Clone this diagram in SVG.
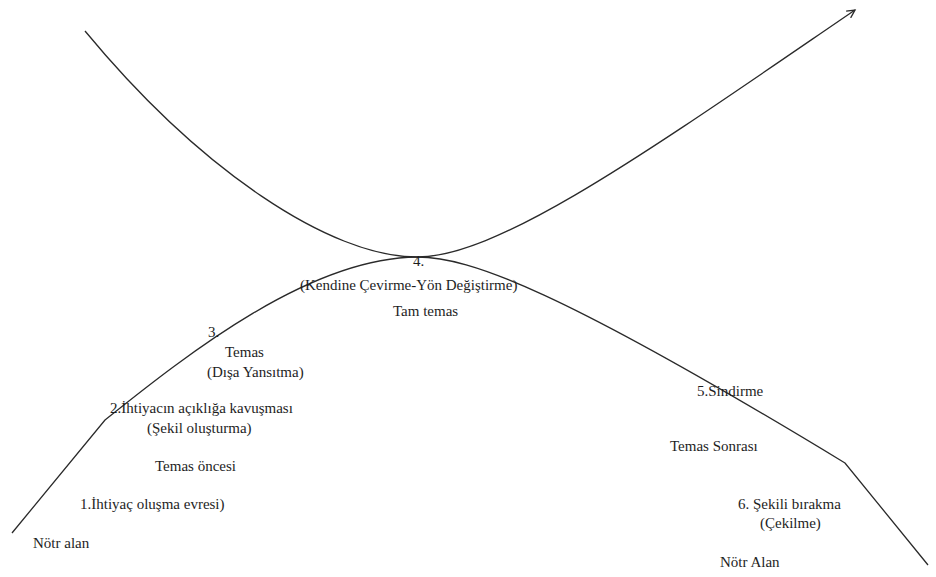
<svg xmlns="http://www.w3.org/2000/svg" width="936" height="577" viewBox="0 0 936 577">
<style>
text{font-family:"Liberation Serif","Times New Roman",serif;font-size:15px;fill:#1e1e1e}
.c{fill:none;stroke:#2a2a2a;stroke-width:1.3}
</style>
<defs>
<marker id="arr" markerWidth="12" markerHeight="10" refX="9" refY="5" orient="auto" markerUnits="userSpaceOnUse">
<path d="M1,1 L9,5 L1,9" fill="none" stroke="#2a2a2a" stroke-width="1.3"/>
</marker>
</defs>
<rect width="936" height="577" fill="#fff"/>
<g id="connectors">
<path class="c" d="M85,31 C200,170 330,257 417,257 C500,257 650,150 855,10" marker-end="url(#arr)"/>
<path class="c" d="M12,533 L105,420 C190,352 310,258 417,257 C470,257 560,290 845,463 L928,565"/>
</g>
<g id="n4"><text x="413" y="266">4.</text></g>
<g id="n4b"><text x="300" y="290">(Kendine Çevirme-Yön Değiştirme)</text></g>
<g id="n4c"><text x="393" y="316">Tam temas</text></g>
<g id="n3"><text x="208" y="337">3.</text></g>
<g id="n3b"><text x="225" y="357">Temas</text></g>
<g id="n3c"><text x="207" y="377">(Dışa Yansıtma)</text></g>
<g id="n2"><text x="110" y="413">2.İhtiyacın açıklığa kavuşması</text></g>
<g id="n2b"><text x="147" y="433">(Şekil oluşturma)</text></g>
<g id="n2c"><text x="155" y="471">Temas öncesi</text></g>
<g id="n1"><text x="80" y="509">1.İhtiyaç oluşma evresi)</text></g>
<g id="n0"><text x="33" y="548">Nötr alan</text></g>
<g id="n5"><text x="697" y="396">5.Sindirme</text></g>
<g id="n5b"><text x="670" y="451">Temas Sonrası</text></g>
<g id="n6"><text x="738" y="509">6. Şekili bırakma</text></g>
<g id="n6b"><text x="760" y="528">(Çekilme)</text></g>
<g id="n7"><text x="720" y="567">Nötr Alan</text></g>
</svg>
